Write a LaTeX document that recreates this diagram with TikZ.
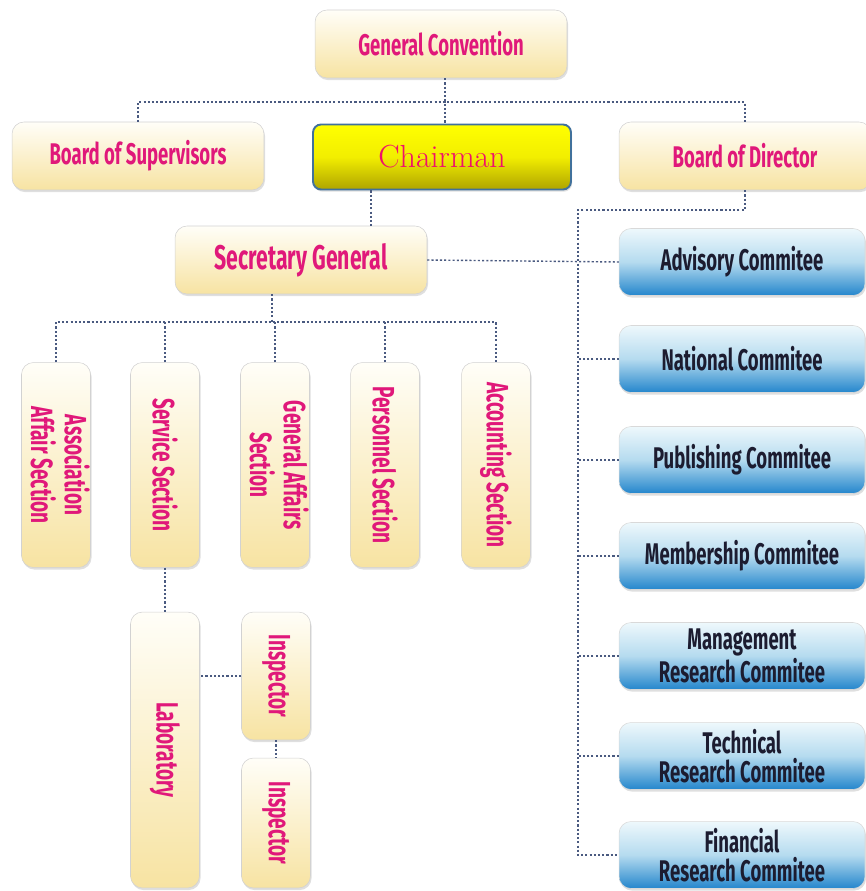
\documentclass[tikz,border=0pt]{standalone}
\usepackage{fontspec}
\usepackage{graphicx}
\usepackage{xcolor}
\newfontfamily\orgfont[FakeStretch=0.62]{Fira Sans}
\usetikzlibrary{shadows}
\definecolor{labelpink}{HTML}{E0187A}
\definecolor{chairpink}{HTML}{F0106A}
\definecolor{creamtop}{HTML}{FFFEF8}
\definecolor{creambottom}{HTML}{F7E3A2}
\definecolor{bluetop}{HTML}{EEF8FC}
\definecolor{bluemid}{HTML}{B5DBEF}
\definecolor{bluebottom}{HTML}{2486CC}
\definecolor{navytext}{HTML}{1C1C30}
\definecolor{chairtop}{HTML}{FFFF00}
\definecolor{chairmid}{HTML}{F2EE00}
\definecolor{chairbottom}{HTML}{AFA400}
\definecolor{chairedge}{HTML}{41719C}
\definecolor{linkblue}{HTML}{4A5A80}

\begin{document}
\begin{tikzpicture}[x=0.02cm,y=-0.02cm,
    cream/.style={rounded corners=0.24cm,draw=gray!35,line width=0.3pt,
        top color=creamtop,bottom color=creambottom,
        drop shadow={opacity=0.25,shadow xshift=0.6pt,shadow yshift=-1.2pt},
        text=labelpink,inner sep=0pt,align=center,
        font=\orgfont\bfseries\fontsize{17}{18}\selectfont},
    headbox/.style={cream,minimum width=5.04cm,minimum height=1.36cm},
    sectionbox/.style={cream,minimum width=1.38cm,minimum height=4.1cm,
        font=\orgfont\bfseries\fontsize{17.5}{17}\selectfont},
    committeebox/.style={rounded corners=0.24cm,draw=gray!30,line width=0.3pt,
        top color=bluetop,bottom color=bluebottom,middle color=bluemid,
        drop shadow={opacity=0.25,shadow xshift=0.6pt,shadow yshift=-1.2pt},
        text=navytext,inner sep=0pt,align=center,
        minimum width=4.92cm,minimum height=1.34cm,
        font=\orgfont\bfseries\fontsize{17}{16.5}\selectfont},
    chairbox/.style={rounded corners=0.16cm,draw=chairedge,line width=1.1pt,
        top color=chairtop,bottom color=chairbottom,middle color=chairmid,
        drop shadow={opacity=0.25,shadow xshift=0.6pt,shadow yshift=-1.2pt},
        text=chairpink,minimum width=5.16cm,minimum height=1.3cm,
        font=\rmfamily\fontsize{18.2}{20}\selectfont},
    link/.style={draw=linkblue,line width=0.8pt,dash pattern=on 1.2pt off 1.2pt}
]
\fill[white] (0,0) rectangle (865,891);
\useasboundingbox (0,0) rectangle (865,891);

% top level
\node[headbox] (conv) at (441,44) {General Convention};
\node[headbox] (sup) at (138,156) {Board of Supervisors};
\node[chairbox] (chair) at (442,157) {Chairman};
\node[headbox] (dir) at (745,156) {Board of Director};
\node[headbox,font=\orgfont\bfseries\fontsize{19.5}{18}\selectfont] (sg) at (301,260) {Secretary General};

% sections
\node[sectionbox] (asso) at (56,465) {\rotatebox{-90}{\begin{tabular}{@{}c@{}}Association\\Affair Section\end{tabular}}};
\node[sectionbox] (serv) at (165,465) {\rotatebox{-90}{Service Section}};
\node[sectionbox] (gen) at (275,465) {\rotatebox{-90}{\begin{tabular}{@{}c@{}}General Affairs\\Section\end{tabular}}};
\node[sectionbox] (pers) at (385,465) {\rotatebox{-90}{Personnel Section}};
\node[sectionbox] (acct) at (496,465) {\rotatebox{-90}{Accounting Section}};
\node[sectionbox,minimum height=5.52cm] (lab) at (165,750) {\rotatebox{-90}{Laboratory}};
\node[sectionbox,minimum height=2.56cm] (insp1) at (276,676) {\rotatebox{-90}{Inspector}};
\node[sectionbox,minimum height=2.6cm] (insp2) at (276,823) {\rotatebox{-90}{Inspector}};

% committees
\node[committeebox] (adv) at (742,262) {Advisory Commitee};
\node[committeebox] (nat) at (742,359) {National Commitee};
\node[committeebox] (pub) at (742,460) {Publishing Commitee};
\node[committeebox] (mem) at (742,556) {Membership Commitee};
\node[committeebox] (mgmt) at (742,656) {Management\\Research Commitee};
\node[committeebox] (tech) at (742,756) {Technical\\Research Commitee};
\node[committeebox] (fin) at (742,855) {Financial\\Research Commitee};

% connectors
\coordinate (topbus) at (445,102);
\coordinate (chairdrop) at (371,0);
\coordinate (sgbus) at (272,322);
\coordinate (rbus) at (578,210);
\draw[link] (conv.south -| topbus) -- (chair.north -| topbus);
\draw[link] (sup.north) |- (topbus) -| (dir.north);
\draw[link] (chair.south -| chairdrop) -- (sg.north -| chairdrop);
\draw[link] (sg.south -| sgbus) -- (sgbus);
\draw[link] (asso.north) |- (sgbus) -| (acct.north);
\foreach \s in {serv,gen,pers}
    \draw[link] (\s.north) -- (\s.north |- sgbus);
\draw[link] (dir.south) |- (rbus) |- (fin.west);
\foreach \c in {nat,pub,mem,mgmt,tech}
    \draw[link] (\c.west) -- (\c.west -| rbus);
\draw[link] (sg.east) -- (adv.west);
\draw[link] (serv.south) -- (lab.north);
\draw[link] (insp1.west) -- (insp1.west -| lab.east);
\draw[link] (insp1.south) -- (insp2.north);
\end{tikzpicture}
\end{document}
